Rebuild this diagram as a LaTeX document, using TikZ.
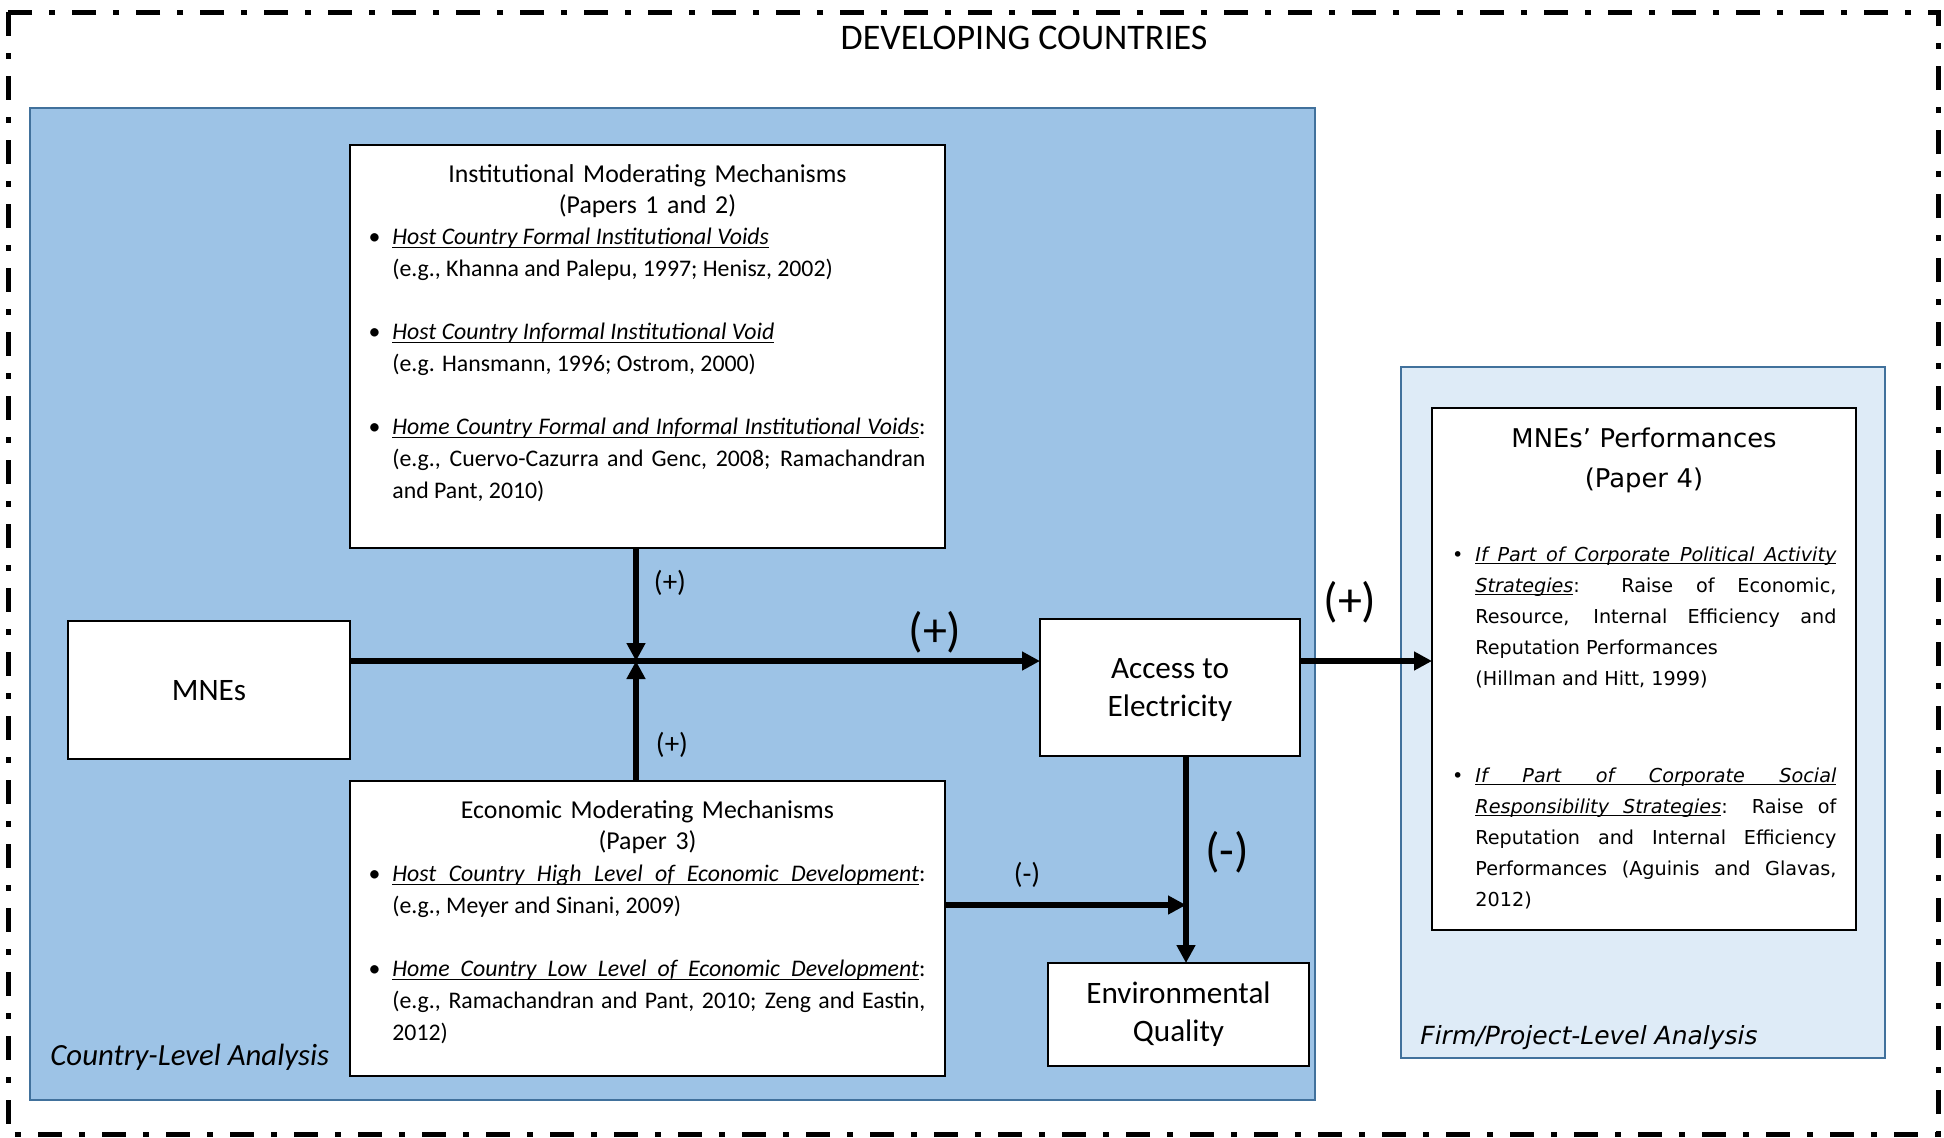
\documentclass[tikz,border=0pt]{standalone}
\usepackage{fontspec}
\setmainfont{Carlito}
\newfontfamily\verdfont{DejaVu Sans}
\usetikzlibrary{arrows.meta,fit}

\definecolor{countryblue}{HTML}{9DC3E6}
\definecolor{firmblue}{HTML}{DEEBF7}
\definecolor{frameblue}{HTML}{41719C}

% underlining word by word, with underlined stretchable spaces
\makeatletter
\newcommand{\ulspace}{\leaders\hrule height -0.09em depth 0.14em
  \hskip\fontdimen2\font plus\fontdimen3\font minus\fontdimen4\font}
\newcommand{\ulword}[1]{\setbox0\hbox{#1}\rlap{\vrule height -0.09em depth 0.14em width \wd0}\box0}
\newcommand{\ulphrase}[1]{\ulp@#1 \@nil}
\def\ulp@#1 #2\@nil{\ulword{#1}\ifx\relax#2\relax\else\ulspace\ulp@#2\@nil\fi}
\makeatother

% bullet hung to the left of an item's first line
\newcommand{\bul}{\leavevmode\strut\llap{\textbullet\hspace{6pt}}}

\tikzset{
  panel/.style={draw=frameblue, line width=1pt, inner sep=0pt, outer sep=0pt},
  box/.style={draw=black, fill=white, line width=0.7pt, inner sep=0pt, outer sep=0pt},
  flow/.style={line width=2.75pt, -{Triangle[length=9pt,width=9pt]}},
  boxtitle/.style={anchor=north, inner sep=0pt, text width=280pt, align=center,
    font=\fontsize{12.9pt}{15.5pt}\selectfont},
  boxbody/.style={anchor=north west, inner sep=0pt, text width=266.5pt, align=justify,
    font=\fontsize{11.9pt}{15.85pt}\selectfont},
  perftitle/.style={anchor=north, inner sep=0pt, text width=200pt, align=center,
    font=\verdfont\fontsize{12.9pt}{20pt}\selectfont},
  perfbody/.style={anchor=north west, inner sep=0pt, text width=180.5pt, align=justify,
    font=\verdfont\fontsize{9.6pt}{15.5pt}\selectfont},
  bigtext/.style={inner sep=0pt, align=center, font=\fontsize{15.6pt}{19pt}\selectfont},
  smallsign/.style={inner sep=0pt, font=\fontsize{14.5pt}{17pt}\selectfont},
  bigsign/.style={inner sep=0pt, font=\fontsize{24pt}{28pt}\selectfont},
}

\begin{document}
\begin{tikzpicture}[x=0.5pt, y=-0.5pt]
\useasboundingbox (0,0) rectangle (1944,1137);

% outer frame of the developing-countries context
\draw[line width=2.5pt, dash pattern=on 12pt off 8.5pt on 3pt off 8.5pt]
  (8,12) rectangle (1938,1134);
\node[font=\fontsize{18pt}{22pt}\selectfont] (dev) at (1024,38) {DEVELOPING COUNTRIES};

% analysis levels
\node[panel, fill=countryblue, fit={(30,108)(1315,1100)}] (country) {};
\node[panel, fill=firmblue, fit={(1401,367)(1885,1058)}] (firm) {};
\node[anchor=base west, inner sep=0pt, font=\fontsize{15.4pt}{18pt}\selectfont\itshape]
  (countrylbl) at (50,1065) {Country-Level Analysis};
\node[anchor=base west, inner sep=0pt, font=\verdfont\fontsize{12.5pt}{15pt}\selectfont\itshape]
  (firmlbl) at (1420,1044) {Firm/Project-Level Analysis};

% boxes
\node[box, fit={(350,145)(945,548)}] (inst) {};
\node[box, fit={(350,781)(945,1076)}] (econ) {};
\node[box, fit={(68,621)(350,759)}] (mnes) {};
\node[box, fit={(1040,619)(1300,756)}] (acc) {};
\node[box, fit={(1048,963)(1309,1066)}] (env) {};
\node[box, fit={(1432,408)(1856,930)}] (perf) {};

% box captions
\node[bigtext] (mnestxt) at ([yshift=-0.5pt]mnes.center) {MNEs};
\node[bigtext] (acctxt) at ([yshift=-1pt]acc.center) {Access to\\Electricity};
\node[bigtext] (envtxt) at (env.center) {Environmental\\Quality};

% institutional mechanisms
\node[boxtitle] (insttitle) at (647.5,164) {Institutional Moderating Mechanisms\\(Papers 1 and 2)};
\node[boxbody] (instbody) at (392,222) {%
\bul{\itshape\ulphrase{Host Country Formal Institutional Voids}}\newline
(e.g., Khanna and Palepu, 1997; Henisz, 2002)\par
\vspace{\baselineskip}
\bul{\itshape\ulphrase{Host Country Informal Institutional Void}}\newline
(e.g. Hansmann, 1996; Ostrom, 2000)\par
\vspace{\baselineskip}
\bul{\itshape\ulphrase{Home Country Formal and Informal Institutional Voids}}:\linebreak
(e.g., Cuervo-Cazurra and Genc, 2008; Ramachandran\linebreak
and Pant, 2010)};

% economic mechanisms
\node[boxtitle] (econtitle) at (647.5,800) {Economic Moderating Mechanisms\\(Paper 3)};
\node[boxbody] (econbody) at (392,859) {%
\bul{\itshape\ulphrase{Host Country High Level of Economic Development}}:\linebreak
(e.g., Meyer and Sinani, 2009)\par
\vspace{\baselineskip}
\bul{\itshape\ulphrase{Home Country Low Level of Economic Development}}:\linebreak
(e.g., Ramachandran and Pant, 2010; Zeng and Eastin,\linebreak
2012)};

% performances
\node[perftitle] (perftitle) at (1644,427) {MNEs’ Performances\\(Paper 4)};
\node[perfbody] (perfa) at (1475,539) {%
\bul{\itshape\ulphrase{If Part of Corporate Political Activity}}\linebreak
{\itshape\ulphrase{Strategies}}: Raise of Economic,\linebreak
Resource, Internal Efficiency and\linebreak
Reputation Performances\newline
(Hillman and Hitt, 1999)};
\node[perfbody] (perfb) at (1475,760) {%
\bul{\itshape\ulphrase{If Part of Corporate Social}}\linebreak
{\itshape\ulphrase{Responsibility Strategies}}: Raise of\linebreak
Reputation and Internal Efficiency\linebreak
Performances (Aguinis and Glavas,\linebreak
2012)};

% connectors
\coordinate (j) at (636,661);
\coordinate (k) at (1186,905);
\draw[flow] (mnes.east |- j) -- (j -| acc.west);
\draw[flow] (inst.south -| j) -- (j);
\draw[flow] (econ.north -| j) -- (j);
\draw[flow] (acc.east |- j) -- (j -| perf.west);
\draw[flow] (acc.south -| k) -- (env.north -| k);
\draw[flow] (econ.east |- k) -- (k);

% signs
\node[smallsign] (s1) at (670,583) {(+)};
\node[smallsign] (s2) at (672,745) {(+)};
\node[bigsign] (s3) at (935,632) {(+)};
\node[bigsign] (s4) at (1350,602) {(+)};
\node[smallsign] (s5) at (1027,875) {(-)};
\node[bigsign] (s6) at (1227,852) {(-)};
\end{tikzpicture}
\end{document}
